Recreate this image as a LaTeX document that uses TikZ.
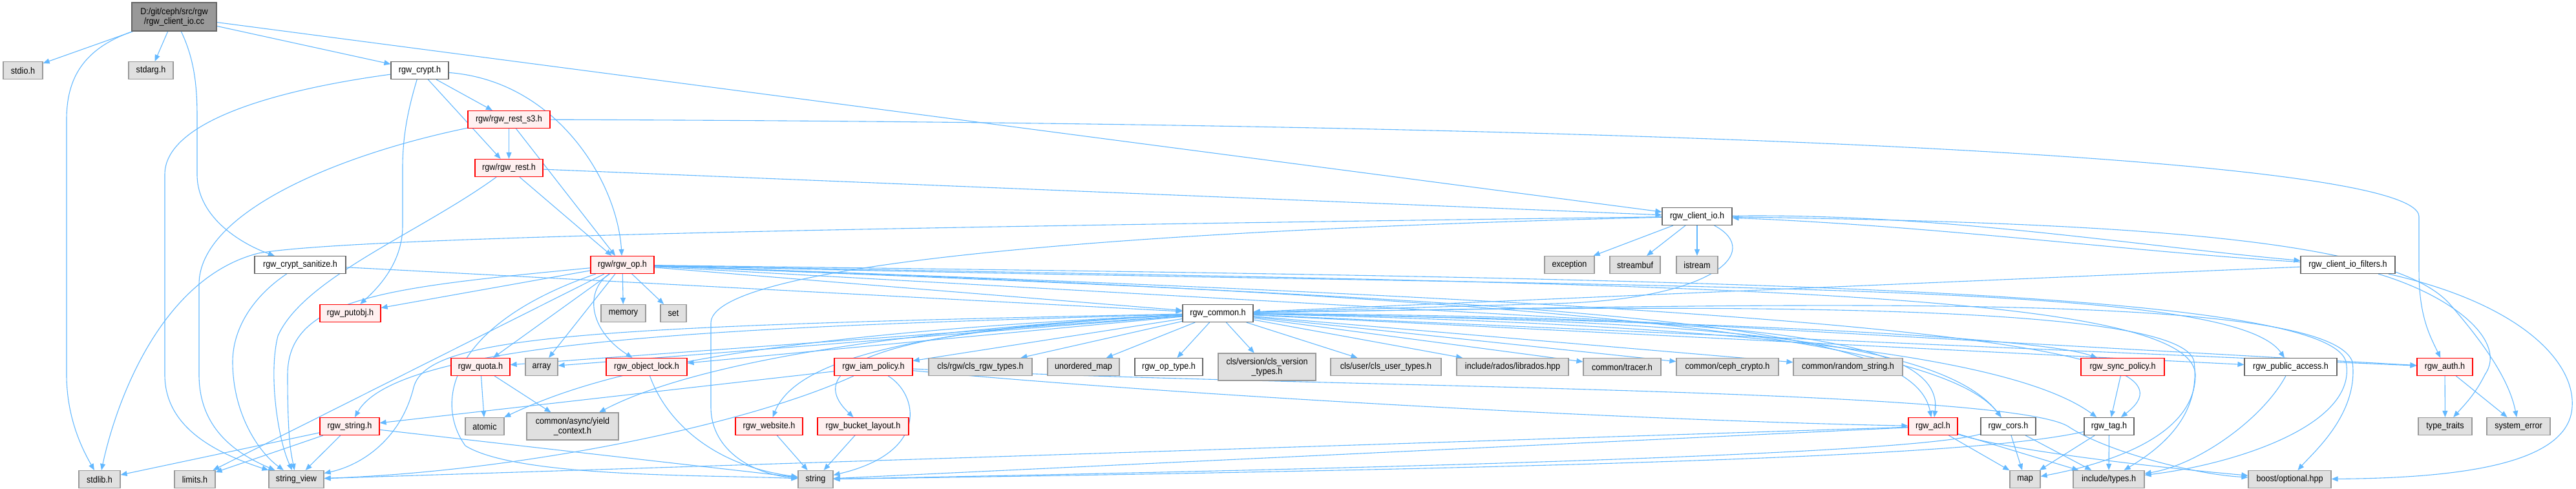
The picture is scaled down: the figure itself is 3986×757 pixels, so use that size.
\documentclass[tikz,border=0pt]{standalone}
\usepackage{fontspec}
\setmainfont{Liberation Sans}[FakeStretch=0.9]
\usetikzlibrary{arrows.meta,backgrounds}
\definecolor{edgec}{HTML}{63B8FF}
\definecolor{grayfill}{HTML}{E0E0E0}
\definecolor{grayline}{HTML}{999999}
\definecolor{whiteline}{HTML}{666666}
\definecolor{redfill}{HTML}{FFF0F0}
\definecolor{redline}{HTML}{FF0000}
\definecolor{rootfill}{HTML}{999999}
\tikzset{
  nbase/.style={rectangle, inner sep=0pt, minimum height=27pt, line width=1.2pt,
    font=\fontsize{14}{15}\selectfont, align=center, text=black},
  gnode/.style={nbase, draw=grayline, fill=grayfill},
  wnode/.style={nbase, draw=whiteline, fill=white},
  rnode/.style={nbase, draw=redline, fill=redfill},
  rootn/.style={nbase, draw=whiteline, fill=rootfill},
  dbl/.style={minimum height=42pt},
  dep/.style={draw=edgec, line width=1.1pt, -{Triangle[length=10pt,width=8pt]}}
}
\begin{document}
\begin{tikzpicture}[x=1pt,y=-1pt]
\useasboundingbox (0,0) rectangle (3986,757);
% row 0
\node[rootn, minimum width=131pt, minimum height=44pt] (root) at (269.5,26) {D:/git/ceph/src/rgw\\/rgw\_client\_io.cc};
% row 1
\node[gnode, minimum width=61pt] (stdio) at (35.5,109) {stdio.h};
\node[gnode, minimum width=69pt] (stdarg) at (233.5,109) {stdarg.h};
\node[wnode, minimum width=89pt] (crypt) at (649.5,109) {rgw\_crypt.h};
% row 2,3,4
\node[rnode, minimum width=127pt] (rest_s3) at (787.5,185) {rgw/rgw\_rest\_s3.h};
\node[rnode, minimum width=105pt] (rest) at (787.5,260) {rgw/rgw\_rest.h};
\node[wnode, minimum width=108pt] (client_io) at (2626,335) {rgw\_client\_io.h};
% row 5
\node[wnode, minimum width=141pt] (sanitize) at (464.5,410) {rgw\_crypt\_sanitize.h};
\node[rnode, minimum width=98pt] (op) at (963,410) {rgw/rgw\_op.h};
\node[gnode, minimum width=77pt] (exception) at (2428.5,410) {exception};
\node[gnode, minimum width=78pt] (streambuf) at (2530,410) {streambuf};
\node[gnode, minimum width=64pt] (istream) at (2626,410) {istream};
\node[wnode, minimum width=146pt] (filters) at (3633,410) {rgw\_client\_io\_filters.h};
% row 6
\node[rnode, minimum width=94pt] (putobj) at (542,485) {rgw\_putobj.h};
\node[gnode, minimum width=69pt] (memory) at (964.5,485) {memory};
\node[gnode, minimum width=40pt] (set) at (1042,485) {set};
\node[wnode, minimum width=109pt] (common) at (1884.5,485) {rgw\_common.h};
% row 7
\node[rnode, minimum width=91pt] (quota) at (743.5,568) {rgw\_quota.h};
\node[gnode, minimum width=50pt] (array) at (838,568) {array};
\node[rnode, minimum width=125pt] (object_lock) at (1000.5,568) {rgw\_object\_lock.h};
\node[rnode, minimum width=121pt] (iam) at (1351.5,568) {rgw\_iam\_policy.h};
\node[gnode, minimum width=160pt] (cls_rgw) at (1517,568) {cls/rgw/cls\_rgw\_types.h};
\node[gnode, minimum width=111pt] (unordered) at (1676.5,568) {unordered\_map};
\node[wnode, minimum width=105pt] (op_type) at (1808.5,568) {rgw\_op\_type.h};
\node[gnode, dbl, minimum width=151pt] (cls_version) at (1960.5,568) {cls/version/cls\_version\\\_types.h};
\node[gnode, minimum width=171pt] (cls_user) at (2144.5,568) {cls/user/cls\_user\_types.h};
\node[gnode, minimum width=173pt] (librados) at (2340.5,568) {include/rados/librados.hpp};
\node[gnode, minimum width=120pt] (tracer) at (2510,568) {common/tracer.h};
\node[gnode, minimum width=158pt] (ceph_crypto) at (2673,568) {common/ceph\_crypto.h};
\node[gnode, minimum width=169pt] (random_string) at (2859.5,568) {common/random\_string.h};
\node[rnode, minimum width=129pt] (sync_policy) at (3284.5,568) {rgw\_sync\_policy.h};
\node[wnode, minimum width=143pt] (public_access) at (3544.5,568) {rgw\_public\_access.h};
\node[rnode, minimum width=86pt] (auth) at (3783,568) {rgw\_auth.h};
% row 8
\node[rnode, minimum width=92pt] (rgw_string) at (541,660) {rgw\_string.h};
\node[gnode, minimum width=60pt] (atomic) at (750,660) {atomic};
\node[gnode, dbl, minimum width=142pt] (yield) at (886,660) {common/async/yield\\\_context.h};
\node[rnode, minimum width=104pt] (website) at (1190,660) {rgw\_website.h};
\node[rnode, minimum width=141pt] (bucket) at (1335.5,660) {rgw\_bucket\_layout.h};
\node[rnode, minimum width=76pt] (acl) at (2991,660) {rgw\_acl.h};
\node[wnode, minimum width=85pt] (cors) at (3107.5,660) {rgw\_cors.h};
\node[wnode, minimum width=77pt] (tag) at (3263.5,660) {rgw\_tag.h};
\node[gnode, minimum width=83pt] (type_traits) at (3783.5,660) {type\_traits};
\node[gnode, minimum width=98pt] (system_error) at (3897,660) {system\_error};
% row 9
\node[gnode, minimum width=64pt] (stdlib) at (154,742) {stdlib.h};
\node[gnode, minimum width=63pt] (limits) at (301.5,742) {limits.h};
\node[gnode, minimum width=85pt] (string_view) at (458.5,742) {string\_view};
\node[gnode, minimum width=54pt] (string) at (1262,742) {string};
\node[gnode, minimum width=47pt] (map) at (3133.5,742) {map};
\node[gnode, minimum width=110pt] (types) at (3263,742) {include/types.h};
\node[gnode, minimum width=128pt] (boost) at (3543,742) {boost/optional.hpp};

\begin{scope}[on background layer]
% root
\draw[dep] (root) -- (stdio);
\draw[dep] (root) -- (stdarg);
\draw[dep] (root) .. controls (130,75) and (103,120) .. (103,185) -- (103,580) .. controls (103,650) and (130,700) .. (stdlib);
\draw[dep] (root) .. controls (300,90) and (305,130) .. (305,180) -- (305,270) .. controls (305,340) and (380,380) .. (sanitize);
\draw[dep] (root) -- (crypt);
\draw[dep] (root) -- (client_io);
% crypt
\draw[dep] (crypt) -- (rest_s3);
\draw[dep] (crypt) -- (rest);
\draw[dep] (crypt) .. controls (860,125) and (955,280) .. (op);
\draw[dep] (crypt) .. controls (628,180) and (623,220) .. (623,260) -- (623,350) .. controls (623,410) and (580,450) .. (putobj);
\draw[dep] (crypt) .. controls (420,140) and (255,190) .. (255,270) -- (255,580) .. controls (255,660) and (330,700) .. (string_view);
% rest_s3
\draw[dep] (rest_s3) -- (rest);
\draw[dep] (rest_s3) -- (op);
\draw[dep] (rest_s3) .. controls (520,240) and (308,330) .. (308,440) -- (308,580) .. controls (308,660) and (360,700) .. (string_view);
\draw[dep] (rest_s3) .. controls (2500,190) and (3740,240) .. (3743,335) -- (3743,420) .. controls (3743,490) and (3760,520) .. (auth);
% rest
\draw[dep] (rest) -- (op);
\draw[dep] (rest) .. controls (650,360) and (470,430) .. (430,520) .. controls (415,580) and (430,680) .. (string_view);
\draw[dep] (rest) -- (client_io);
% client_io
\draw[dep] (client_io) -- (exception);
\draw[dep] (client_io) -- (streambuf);
\draw[dep] (client_io) -- (istream);
\draw[dep] (client_io) .. controls (1500,350) and (550,365) .. (400,392) .. controls (250,430) and (180,620) .. (stdlib);
\draw[dep] (client_io) .. controls (1600,360) and (1100,420) .. (1100,500) -- (1100,630) .. controls (1100,700) and (1170,735) .. (string);
\draw[dep] (client_io) .. controls (2730,390) and (2650,465) .. (2400,470) .. controls (2200,476) and (2050,480) .. (common);
\draw[dep] (client_io) .. controls (3300,345) and (3700,370) .. (3790,470) .. controls (3860,550) and (3885,600) .. (system_error);
\draw[dep] (client_io) .. controls (3000,330) and (3300,380) .. (filters);
\draw[dep] (filters) .. controls (3300,390) and (3000,350) .. (client_io);
% filters
\draw[dep] (filters) -- (common);
\draw[dep] (filters) .. controls (3800,460) and (3880,530) .. (3845,580) .. controls (3830,610) and (3815,625) .. (type_traits);
\draw[dep] (filters) .. controls (3900,470) and (3985,560) .. (3980,630) .. controls (3975,720) and (3800,740) .. (boost);
% sanitize
\draw[dep] (sanitize) .. controls (390,460) and (360,510) .. (360,560) .. controls (360,640) and (400,700) .. (string_view);
\draw[dep] (sanitize) -- (common);
% op
\draw[dep] (op) -- (putobj);
\draw[dep] (op) -- (memory);
\draw[dep] (op) -- (set);
\draw[dep] (op) -- (array);
\draw[dep] (op) -- (quota);
\draw[dep] (op) .. controls (905,450) and (910,510) .. (object_lock);
\draw[dep] (op) -- (limits);
\draw[dep] (op) .. controls (600,445) and (445,460) .. (445,580) .. controls (445,680) and (450,700) .. (string_view);
\draw[dep] (op) .. controls (700,500) and (670,620) .. (720,690) .. controls (800,740) and (1100,735) .. (string);
\draw[dep] (op) -- (common);
\draw[dep] (op) .. controls (2500,470) and (2960,500) .. (acl);
\draw[dep] (op) .. controls (2400,460) and (3000,520) .. (cors);
\draw[dep] (op) .. controls (3000,480) and (3420,540) .. (tag);
\draw[dep] (op) .. controls (2500,440) and (3400,440) .. (3397,582) .. controls (3395,680) and (3250,720) .. (map);
\draw[dep] (op) .. controls (2500,430) and (3600,440) .. (3630,560) .. controls (3650,660) and (3450,720) .. (types);
\draw[dep] (op) .. controls (2600,450) and (3450,430) .. (public_access);
\draw[dep] (op) -- (auth);
% common
\draw[dep] (common) -- (quota);
\draw[dep] (common) -- (array);
\draw[dep] (common) -- (object_lock);
\draw[dep] (common) -- (iam);
\draw[dep] (common) -- (cls_rgw);
\draw[dep] (common) -- (unordered);
\draw[dep] (common) -- (op_type);
\draw[dep] (common) -- (cls_version);
\draw[dep] (common) -- (cls_user);
\draw[dep] (common) -- (librados);
\draw[dep] (common) -- (tracer);
\draw[dep] (common) -- (ceph_crypto);
\draw[dep] (common) -- (random_string);
\draw[dep] (common) .. controls (2600,495) and (3150,520) .. (sync_policy);
\draw[dep] (common) -- (public_access);
\draw[dep] (common) -- (auth);
\draw[dep] (common) .. controls (2700,490) and (3010,520) .. (acl);
\draw[dep] (common) .. controls (2600,495) and (3000,520) .. (cors);
\draw[dep] (common) .. controls (2600,500) and (3100,540) .. (tag);
\draw[dep] (common) .. controls (2700,470) and (3380,470) .. (3395,560) .. controls (3405,640) and (3350,690) .. (types);
\draw[dep] (common) .. controls (2800,470) and (3600,450) .. (3640,560) .. controls (3650,640) and (3580,700) .. (boost);
\draw[dep] (common) .. controls (1200,505) and (620,520) .. (rgw_string);
\draw[dep] (common) .. controls (1400,510) and (1230,560) .. (website);
\draw[dep] (common) .. controls (1350,510) and (1240,570) .. (bucket);
\draw[dep] (common) .. controls (1100,520) and (900,590) .. (atomic);
\draw[dep] (common) .. controls (1200,520) and (1000,600) .. (yield);
\draw[dep] (common) .. controls (900,505) and (660,520) .. (640,600) .. controls (620,680) and (560,720) .. (string_view);
% iam
\draw[dep] (iam) .. controls (1420,610) and (1440,700) .. (string);
\draw[dep] (iam) .. controls (1150,660) and (800,730) .. (string_view);
\draw[dep] (iam) -- (rgw_string);
\draw[dep] (iam) .. controls (1800,610) and (2500,650) .. (acl);
\draw[dep] (iam) .. controls (2000,600) and (3100,600) .. (3200,660) .. controls (3260,700) and (3400,735) .. (boost);
% quota, object lock, website, bucket
\draw[dep] (quota) -- (atomic);
\draw[dep] (quota) -- (yield);
\draw[dep] (object_lock) .. controls (1030,650) and (1100,720) .. (string);
\draw[dep] (website) -- (string);
\draw[dep] (bucket) -- (string);
% rgw_string
\draw[dep] (rgw_string) -- (stdlib);
\draw[dep] (rgw_string) -- (limits);
\draw[dep] (rgw_string) -- (string_view);
\draw[dep] (rgw_string) -- (string);
% others
\draw[dep] (sync_policy) -- (tag);
\draw[dep] (auth) -- (type_traits);
\draw[dep] (auth) -- (system_error);
\draw[dep] (public_access) .. controls (3500,650) and (3400,720) .. (types);
% acl
\draw[dep] (acl) -- (map);
\draw[dep] (acl) -- (types);
\draw[dep] (acl) .. controls (3100,695) and (3300,720) .. (boost);
\draw[dep] (acl) -- (string);
\draw[dep] (acl) -- (string_view);
% cors
\draw[dep] (cors) -- (map);
\draw[dep] (cors) -- (types);
\draw[dep] (cors) .. controls (3000,690) and (2700,715) .. (string);
% tag
\draw[dep] (tag) -- (map);
\draw[dep] (tag) -- (types);
\draw[dep] (tag) .. controls (3100,695) and (2800,720) .. (string);
\end{scope}
\end{tikzpicture}
\end{document}
